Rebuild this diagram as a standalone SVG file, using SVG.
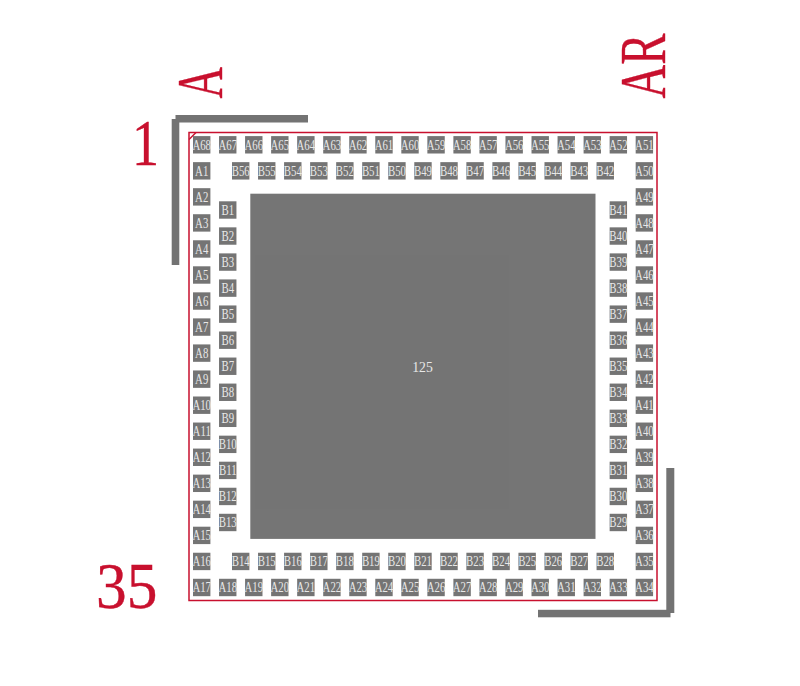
<svg xmlns="http://www.w3.org/2000/svg" width="800" height="686" viewBox="0 0 800 686">
<style>
.pad{opacity:.99}
.pad rect{width:17.4px;height:17.4px;fill:#737373}
.pad text{font:15px "Liberation Serif",serif;fill:#e8e8e8;text-anchor:middle;transform:translate(8.7px,13.6px) scaleX(.72)}
.silk{fill:#737373}
.lbl{font:66px "Liberation Serif",serif;fill:#c8102e;stroke:#c8102e;stroke-width:.4}
</style>
<rect width="800" height="686" fill="#fff"/>
<g id="silkscreen">
<rect class="silk" x="175.5" y="115" width="132.5" height="7.5"/>
<rect class="silk" x="171.7" y="119" width="7.6" height="146"/>
<rect class="silk" x="666.3" y="468" width="8" height="145"/>
<rect class="silk" x="538" y="609.8" width="132.5" height="7.5"/>
</g>
<g id="outline" fill="none" stroke="#c8102e" stroke-width="1.5">
<rect x="189" y="132.5" width="468" height="468"/>
<path d="M189 139.5L196 132.5"/>
</g>
<g id="labels">
<text class="lbl" transform="translate(132 165) scale(.82 1)">1</text>
<text class="lbl" transform="translate(96 608) scale(.93 1)">35</text>
<text class="lbl" transform="translate(222 98.5) rotate(-90) scale(.66 1)">A</text>
<text class="lbl" transform="translate(665 98.5) rotate(-90) scale(.71 1)">AR</text>
</g>
<g id="pad-125" class="pad" transform="translate(250.3 193.7)"><rect style="width:345.2px;height:345.2px"/><text style="font-size:14px;transform:translate(172.2px,177.8px) scaleX(.98)">125</text></g>
<g id="A68" class="pad" transform="translate(193 136.1)"><rect/><text>A68</text></g>
<g id="A67" class="pad" transform="translate(219.04 136.1)"><rect/><text>A67</text></g>
<g id="A66" class="pad" transform="translate(245.08 136.1)"><rect/><text>A66</text></g>
<g id="A65" class="pad" transform="translate(271.12 136.1)"><rect/><text>A65</text></g>
<g id="A64" class="pad" transform="translate(297.16 136.1)"><rect/><text>A64</text></g>
<g id="A63" class="pad" transform="translate(323.2 136.1)"><rect/><text>A63</text></g>
<g id="A62" class="pad" transform="translate(349.24 136.1)"><rect/><text>A62</text></g>
<g id="A61" class="pad" transform="translate(375.28 136.1)"><rect/><text>A61</text></g>
<g id="A60" class="pad" transform="translate(401.32 136.1)"><rect/><text>A60</text></g>
<g id="A59" class="pad" transform="translate(427.36 136.1)"><rect/><text>A59</text></g>
<g id="A58" class="pad" transform="translate(453.4 136.1)"><rect/><text>A58</text></g>
<g id="A57" class="pad" transform="translate(479.44 136.1)"><rect/><text>A57</text></g>
<g id="A56" class="pad" transform="translate(505.48 136.1)"><rect/><text>A56</text></g>
<g id="A55" class="pad" transform="translate(531.52 136.1)"><rect/><text>A55</text></g>
<g id="A54" class="pad" transform="translate(557.56 136.1)"><rect/><text>A54</text></g>
<g id="A53" class="pad" transform="translate(583.6 136.1)"><rect/><text>A53</text></g>
<g id="A52" class="pad" transform="translate(609.64 136.1)"><rect/><text>A52</text></g>
<g id="A51" class="pad" transform="translate(635.68 136.1)"><rect/><text>A51</text></g>
<g id="A1" class="pad" transform="translate(193 162.14)"><rect/><text>A1</text></g>
<g id="A2" class="pad" transform="translate(193 188.18)"><rect/><text>A2</text></g>
<g id="A3" class="pad" transform="translate(193 214.22)"><rect/><text>A3</text></g>
<g id="A4" class="pad" transform="translate(193 240.26)"><rect/><text>A4</text></g>
<g id="A5" class="pad" transform="translate(193 266.3)"><rect/><text>A5</text></g>
<g id="A6" class="pad" transform="translate(193 292.34)"><rect/><text>A6</text></g>
<g id="A7" class="pad" transform="translate(193 318.38)"><rect/><text>A7</text></g>
<g id="A8" class="pad" transform="translate(193 344.42)"><rect/><text>A8</text></g>
<g id="A9" class="pad" transform="translate(193 370.46)"><rect/><text>A9</text></g>
<g id="A10" class="pad" transform="translate(193 396.5)"><rect/><text>A10</text></g>
<g id="A11" class="pad" transform="translate(193 422.54)"><rect/><text>A11</text></g>
<g id="A12" class="pad" transform="translate(193 448.58)"><rect/><text>A12</text></g>
<g id="A13" class="pad" transform="translate(193 474.62)"><rect/><text>A13</text></g>
<g id="A14" class="pad" transform="translate(193 500.66)"><rect/><text>A14</text></g>
<g id="A15" class="pad" transform="translate(193 526.7)"><rect/><text>A15</text></g>
<g id="A16" class="pad" transform="translate(193 552.74)"><rect/><text>A16</text></g>
<g id="A17" class="pad" transform="translate(193 578.78)"><rect/><text>A17</text></g>
<g id="A18" class="pad" transform="translate(219.04 578.78)"><rect/><text>A18</text></g>
<g id="A19" class="pad" transform="translate(245.08 578.78)"><rect/><text>A19</text></g>
<g id="A20" class="pad" transform="translate(271.12 578.78)"><rect/><text>A20</text></g>
<g id="A21" class="pad" transform="translate(297.16 578.78)"><rect/><text>A21</text></g>
<g id="A22" class="pad" transform="translate(323.2 578.78)"><rect/><text>A22</text></g>
<g id="A23" class="pad" transform="translate(349.24 578.78)"><rect/><text>A23</text></g>
<g id="A24" class="pad" transform="translate(375.28 578.78)"><rect/><text>A24</text></g>
<g id="A25" class="pad" transform="translate(401.32 578.78)"><rect/><text>A25</text></g>
<g id="A26" class="pad" transform="translate(427.36 578.78)"><rect/><text>A26</text></g>
<g id="A27" class="pad" transform="translate(453.4 578.78)"><rect/><text>A27</text></g>
<g id="A28" class="pad" transform="translate(479.44 578.78)"><rect/><text>A28</text></g>
<g id="A29" class="pad" transform="translate(505.48 578.78)"><rect/><text>A29</text></g>
<g id="A30" class="pad" transform="translate(531.52 578.78)"><rect/><text>A30</text></g>
<g id="A31" class="pad" transform="translate(557.56 578.78)"><rect/><text>A31</text></g>
<g id="A32" class="pad" transform="translate(583.6 578.78)"><rect/><text>A32</text></g>
<g id="A33" class="pad" transform="translate(609.64 578.78)"><rect/><text>A33</text></g>
<g id="A34" class="pad" transform="translate(635.68 578.78)"><rect/><text>A34</text></g>
<g id="A35" class="pad" transform="translate(635.68 552.74)"><rect/><text>A35</text></g>
<g id="A36" class="pad" transform="translate(635.68 526.7)"><rect/><text>A36</text></g>
<g id="A37" class="pad" transform="translate(635.68 500.66)"><rect/><text>A37</text></g>
<g id="A38" class="pad" transform="translate(635.68 474.62)"><rect/><text>A38</text></g>
<g id="A39" class="pad" transform="translate(635.68 448.58)"><rect/><text>A39</text></g>
<g id="A40" class="pad" transform="translate(635.68 422.54)"><rect/><text>A40</text></g>
<g id="A41" class="pad" transform="translate(635.68 396.5)"><rect/><text>A41</text></g>
<g id="A42" class="pad" transform="translate(635.68 370.46)"><rect/><text>A42</text></g>
<g id="A43" class="pad" transform="translate(635.68 344.42)"><rect/><text>A43</text></g>
<g id="A44" class="pad" transform="translate(635.68 318.38)"><rect/><text>A44</text></g>
<g id="A45" class="pad" transform="translate(635.68 292.34)"><rect/><text>A45</text></g>
<g id="A46" class="pad" transform="translate(635.68 266.3)"><rect/><text>A46</text></g>
<g id="A47" class="pad" transform="translate(635.68 240.26)"><rect/><text>A47</text></g>
<g id="A48" class="pad" transform="translate(635.68 214.22)"><rect/><text>A48</text></g>
<g id="A49" class="pad" transform="translate(635.68 188.18)"><rect/><text>A49</text></g>
<g id="A50" class="pad" transform="translate(635.68 162.14)"><rect/><text>A50</text></g>
<g id="B1" class="pad" transform="translate(219.04 201.3)"><rect/><text>B1</text></g>
<g id="B2" class="pad" transform="translate(219.04 227.34)"><rect/><text>B2</text></g>
<g id="B3" class="pad" transform="translate(219.04 253.38)"><rect/><text>B3</text></g>
<g id="B4" class="pad" transform="translate(219.04 279.42)"><rect/><text>B4</text></g>
<g id="B5" class="pad" transform="translate(219.04 305.46)"><rect/><text>B5</text></g>
<g id="B6" class="pad" transform="translate(219.04 331.5)"><rect/><text>B6</text></g>
<g id="B7" class="pad" transform="translate(219.04 357.54)"><rect/><text>B7</text></g>
<g id="B8" class="pad" transform="translate(219.04 383.58)"><rect/><text>B8</text></g>
<g id="B9" class="pad" transform="translate(219.04 409.62)"><rect/><text>B9</text></g>
<g id="B10" class="pad" transform="translate(219.04 435.66)"><rect/><text>B10</text></g>
<g id="B11" class="pad" transform="translate(219.04 461.7)"><rect/><text>B11</text></g>
<g id="B12" class="pad" transform="translate(219.04 487.74)"><rect/><text>B12</text></g>
<g id="B13" class="pad" transform="translate(219.04 513.78)"><rect/><text>B13</text></g>
<g id="B14" class="pad" transform="translate(232 552.74)"><rect/><text>B14</text></g>
<g id="B15" class="pad" transform="translate(258.04 552.74)"><rect/><text>B15</text></g>
<g id="B16" class="pad" transform="translate(284.08 552.74)"><rect/><text>B16</text></g>
<g id="B17" class="pad" transform="translate(310.12 552.74)"><rect/><text>B17</text></g>
<g id="B18" class="pad" transform="translate(336.16 552.74)"><rect/><text>B18</text></g>
<g id="B19" class="pad" transform="translate(362.2 552.74)"><rect/><text>B19</text></g>
<g id="B20" class="pad" transform="translate(388.24 552.74)"><rect/><text>B20</text></g>
<g id="B21" class="pad" transform="translate(414.28 552.74)"><rect/><text>B21</text></g>
<g id="B22" class="pad" transform="translate(440.32 552.74)"><rect/><text>B22</text></g>
<g id="B23" class="pad" transform="translate(466.36 552.74)"><rect/><text>B23</text></g>
<g id="B24" class="pad" transform="translate(492.4 552.74)"><rect/><text>B24</text></g>
<g id="B25" class="pad" transform="translate(518.44 552.74)"><rect/><text>B25</text></g>
<g id="B26" class="pad" transform="translate(544.48 552.74)"><rect/><text>B26</text></g>
<g id="B27" class="pad" transform="translate(570.52 552.74)"><rect/><text>B27</text></g>
<g id="B28" class="pad" transform="translate(596.56 552.74)"><rect/><text>B28</text></g>
<g id="B29" class="pad" transform="translate(609.64 513.78)"><rect/><text>B29</text></g>
<g id="B30" class="pad" transform="translate(609.64 487.74)"><rect/><text>B30</text></g>
<g id="B31" class="pad" transform="translate(609.64 461.7)"><rect/><text>B31</text></g>
<g id="B32" class="pad" transform="translate(609.64 435.66)"><rect/><text>B32</text></g>
<g id="B33" class="pad" transform="translate(609.64 409.62)"><rect/><text>B33</text></g>
<g id="B34" class="pad" transform="translate(609.64 383.58)"><rect/><text>B34</text></g>
<g id="B35" class="pad" transform="translate(609.64 357.54)"><rect/><text>B35</text></g>
<g id="B36" class="pad" transform="translate(609.64 331.5)"><rect/><text>B36</text></g>
<g id="B37" class="pad" transform="translate(609.64 305.46)"><rect/><text>B37</text></g>
<g id="B38" class="pad" transform="translate(609.64 279.42)"><rect/><text>B38</text></g>
<g id="B39" class="pad" transform="translate(609.64 253.38)"><rect/><text>B39</text></g>
<g id="B40" class="pad" transform="translate(609.64 227.34)"><rect/><text>B40</text></g>
<g id="B41" class="pad" transform="translate(609.64 201.3)"><rect/><text>B41</text></g>
<g id="B42" class="pad" transform="translate(596.56 162.14)"><rect/><text>B42</text></g>
<g id="B43" class="pad" transform="translate(570.52 162.14)"><rect/><text>B43</text></g>
<g id="B44" class="pad" transform="translate(544.48 162.14)"><rect/><text>B44</text></g>
<g id="B45" class="pad" transform="translate(518.44 162.14)"><rect/><text>B45</text></g>
<g id="B46" class="pad" transform="translate(492.4 162.14)"><rect/><text>B46</text></g>
<g id="B47" class="pad" transform="translate(466.36 162.14)"><rect/><text>B47</text></g>
<g id="B48" class="pad" transform="translate(440.32 162.14)"><rect/><text>B48</text></g>
<g id="B49" class="pad" transform="translate(414.28 162.14)"><rect/><text>B49</text></g>
<g id="B50" class="pad" transform="translate(388.24 162.14)"><rect/><text>B50</text></g>
<g id="B51" class="pad" transform="translate(362.2 162.14)"><rect/><text>B51</text></g>
<g id="B52" class="pad" transform="translate(336.16 162.14)"><rect/><text>B52</text></g>
<g id="B53" class="pad" transform="translate(310.12 162.14)"><rect/><text>B53</text></g>
<g id="B54" class="pad" transform="translate(284.08 162.14)"><rect/><text>B54</text></g>
<g id="B55" class="pad" transform="translate(258.04 162.14)"><rect/><text>B55</text></g>
<g id="B56" class="pad" transform="translate(232 162.14)"><rect/><text>B56</text></g>
</svg>
